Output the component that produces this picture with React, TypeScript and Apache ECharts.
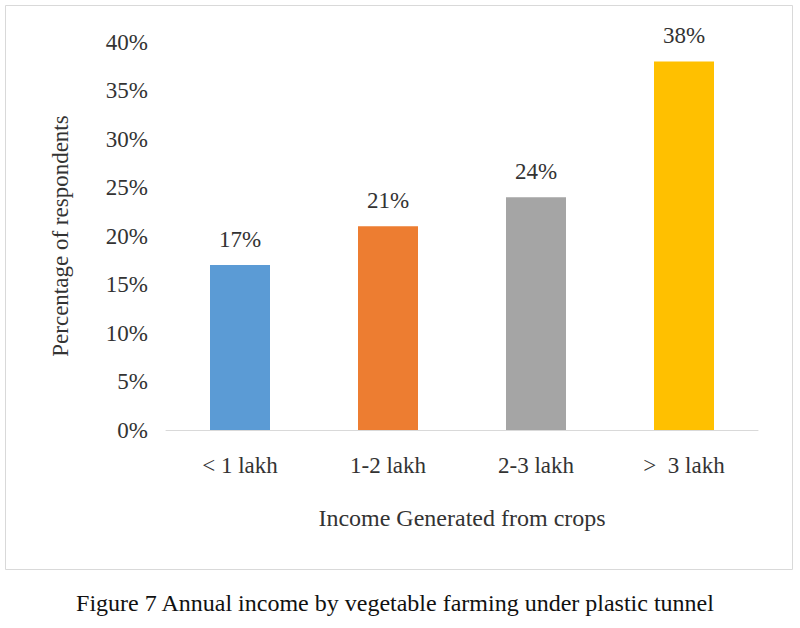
import React, { useEffect, useRef } from 'react';
import * as echarts from 'echarts';

const categories = ['< 1 lakh', '1-2 lakh', '2-3 lakh', '>  3 lakh'];
const values = [17, 21, 24, 38];
const colors = ['#5B9BD5', '#ED7D31', '#A5A5A5', '#FFC000'];
const font = '"Liberation Serif", "Times New Roman", serif';

const App: React.FC = () => {
  const chartRef = useRef<HTMLDivElement | null>(null);

  useEffect(() => {
    document.body.style.margin = '0';
    let chart: echarts.ECharts | null = null;
    if (chartRef.current) {
      chart = echarts.init(chartRef.current, undefined, { renderer: 'svg' });
      chart.setOption({
        animation: false,
        backgroundColor: '#fff',
        textStyle: { fontFamily: font, color: '#333' },
        grid: { left: 166, right: 42, top: 42, bottom: 198 },
        xAxis: {
          type: 'category',
          data: categories,
          axisTick: { show: false },
          axisLine: { lineStyle: { color: '#d9d9d9' } },
          axisLabel: { fontSize: 23, color: '#333', margin: 24, fontFamily: font },
          name: 'Income Generated from crops',
          nameLocation: 'middle',
          nameGap: 76,
          nameTextStyle: { fontSize: 24, color: '#333', fontFamily: font },
        },
        yAxis: {
          type: 'value',
          min: 0,
          max: 40,
          interval: 5,
          splitLine: { show: false },
          axisLine: { show: false },
          axisLabel: { fontSize: 23, color: '#333', margin: 18, formatter: '{value}%', fontFamily: font },
          name: 'Percentage of respondents',
          nameLocation: 'middle',
          nameGap: 94,
          nameTextStyle: { fontSize: 23, color: '#333', fontFamily: font },
        },
        series: [
          {
            type: 'bar',
            barWidth: 60,
            data: values.map((v, i) => ({ value: v, itemStyle: { color: colors[i] } })),
            label: {
              show: true,
              position: 'top',
              distance: 14,
              formatter: '{c}%',
              fontSize: 23,
              color: '#333',
              fontFamily: font,
            },
          },
        ],
        graphic: [
          {
            type: 'rect',
            shape: { x: 5.5, y: 5.5, width: 787, height: 564 },
            style: { fill: 'none', stroke: '#d9d9d9', lineWidth: 1 },
            silent: true,
          },
          {
            type: 'text',
            x: 395,
            y: 603,
            style: {
              text: 'Figure 7 Annual income by vegetable farming under plastic tunnel',
              fontSize: 24,
              fontFamily: font,
              fill: '#111',
              align: 'center',
              verticalAlign: 'middle',
            },
          },
        ],
      });
    }
    return () => {
      chart?.dispose();
    };
  }, []);

  return <div ref={chartRef} style={{ width: 800, height: 628 }} />;
};

export default App;
